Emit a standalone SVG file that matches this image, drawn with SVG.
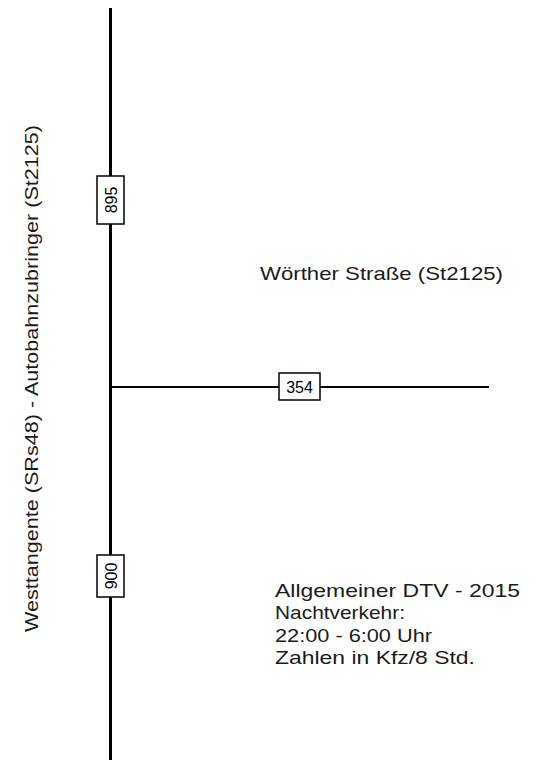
<svg xmlns="http://www.w3.org/2000/svg" width="536" height="760" viewBox="0 0 536 760">
<style>
.road{stroke:#000;fill:none}
.box{fill:#fff;stroke:#000;stroke-width:1.5}
.num{font-family:"Liberation Sans",Arial,sans-serif;font-size:16px;fill:#000;text-anchor:middle}
.lbl{font-family:"Liberation Sans",Arial,sans-serif;font-size:19px;fill:#1a1a1a}
</style>
<rect width="536" height="760" fill="#fff"/>
<g id="connectors">
<line class="road" x1="110.5" y1="8" x2="110.5" y2="760" stroke-width="3"/>
<line class="road" x1="110" y1="387" x2="489" y2="387" stroke-width="2"/>
</g>
<g id="count-895">
<rect class="box" x="97" y="176" width="27" height="48"/>
<text class="num" transform="translate(116.5,200) rotate(-90)">895</text>
</g>
<g id="count-900">
<rect class="box" x="97" y="555" width="27" height="42"/>
<text class="num" transform="translate(116.5,576) rotate(-90)">900</text>
</g>
<g id="count-354">
<rect class="box" x="279" y="373" width="41" height="27"/>
<text class="num" x="299.5" y="392.5">354</text>
</g>
<g id="label-west">
<text class="lbl" transform="translate(38,632) rotate(-90)" textLength="507" lengthAdjust="spacingAndGlyphs">Westtangente (SRs48) - Autobahnzubringer (St2125)</text>
</g>
<g id="label-woerther">
<text class="lbl" x="260" y="280" textLength="243" lengthAdjust="spacingAndGlyphs">Wörther Straße (St2125)</text>
</g>
<g id="legend">
<text class="lbl" x="275" y="597" textLength="245" lengthAdjust="spacingAndGlyphs">Allgemeiner DTV - 2015</text>
<text class="lbl" x="275" y="619" textLength="130" lengthAdjust="spacingAndGlyphs">Nachtverkehr:</text>
<text class="lbl" x="275" y="642" textLength="157" lengthAdjust="spacingAndGlyphs">22:00 - 6:00 Uhr</text>
<text class="lbl" x="275" y="664" textLength="200" lengthAdjust="spacingAndGlyphs">Zahlen in Kfz/8 Std.</text>
</g>
</svg>
